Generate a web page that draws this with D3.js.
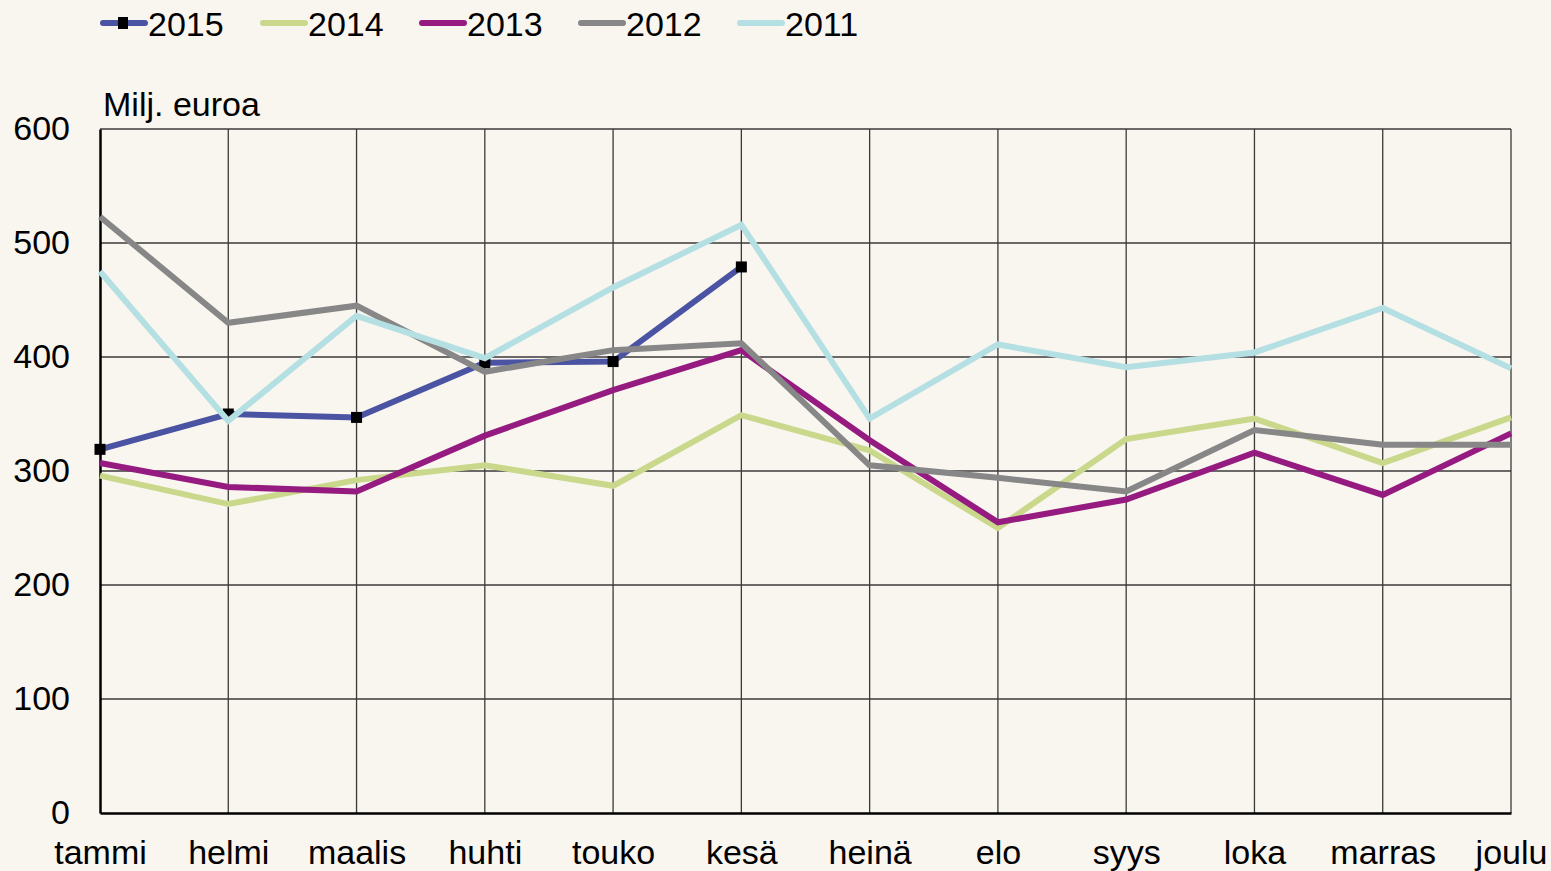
<!DOCTYPE html>
<html>
<head>
<meta charset="utf-8">
<script src="https://cdn.jsdelivr.net/npm/d3@7"></script>
<style>
  html, body { margin: 0; padding: 0; background: #f9f5ef; }
  svg { display: block; font-family: "Liberation Sans", Arial, sans-serif; }
</style>
</head>
<body>
<div id="chart"></div>
<script>
// Month labels (x axis)
var months = ["tammi", "helmi", "maalis", "huhti", "touko", "kesä", "heinä", "elo", "syys", "loka", "marras", "joulu"];
var yTicks = [0, 100, 200, 300, 400, 500, 600];

// Series values, Milj. euroa
var v2015 = [319, 350, 347, 395, 396, 479];
var v2014 = [296, 271, 292, 305, 287, 349, 318, 250, 328, 346, 307, 347];
var v2013 = [307, 286, 282, 331, 371, 406, 327, 255, 275, 316, 279, 333];
var v2012 = [523, 430, 445, 387, 406, 412, 305, 294, 282, 336, 323, 323];
var v2011 = [475, 344, 436, 399, 461, 516, 346, 411, 391, 404, 443, 390];

var seriesNames = ["2015", "2014", "2013", "2012", "2011"];
var seriesValues = [v2015, v2014, v2013, v2012, v2011];
var seriesColors = ["#4b53a3", "#c9d88a", "#951b81", "#878787", "#b5e0e3"];

var svgWidth = 1551;
var svgHeight = 871;
var margin = { top: 129, right: 40, bottom: 58, left: 100 };
var chartWidth = 1511 - margin.left;
var chartHeight = 813 - margin.top;
var fontSize = 34;

var svg = d3.select("#chart")
  .append("svg")
  .attr("width", svgWidth)
  .attr("height", svgHeight);

svg.append("rect")
  .attr("width", svgWidth)
  .attr("height", svgHeight)
  .attr("fill", "#f9f5ef");

var chartGroup = svg.append("g")
  .attr("transform", `translate(${margin.left}, ${margin.top})`);

var xScale = d3.scalePoint()
  .domain(months)
  .range([0, chartWidth]);

var yScale = d3.scaleLinear()
  .domain([0, 600])
  .range([chartHeight, 0]);

// horizontal gridlines
chartGroup.append("g")
  .selectAll("line")
  .data(yTicks.slice(1))
  .enter()
  .append("line")
  .attr("x1", 0)
  .attr("x2", chartWidth)
  .attr("y1", d => yScale(d))
  .attr("y2", d => yScale(d))
  .attr("stroke", "#3a3a3a")
  .attr("stroke-width", 1.3);

// vertical gridlines
chartGroup.append("g")
  .selectAll("line")
  .data(months.slice(1))
  .enter()
  .append("line")
  .attr("x1", d => xScale(d))
  .attr("x2", d => xScale(d))
  .attr("y1", 0)
  .attr("y2", chartHeight)
  .attr("stroke", "#3a3a3a")
  .attr("stroke-width", 1.3);

// y axis
var leftAxis = d3.axisLeft(yScale).tickValues(yTicks).tickSize(0).tickPadding(30);
var yAxisG = chartGroup.append("g").call(leftAxis);
yAxisG.select(".domain").attr("stroke", "#000").attr("stroke-width", 2.5);
yAxisG.selectAll("text")
  .attr("font-size", fontSize)
  .attr("font-family", "Liberation Sans, Arial, sans-serif")
  .attr("fill", "#000");

// x axis
var bottomAxis = d3.axisBottom(xScale).tickSize(0).tickPadding(27);
var xAxisG = chartGroup.append("g")
  .attr("transform", `translate(0, ${chartHeight})`)
  .call(bottomAxis);
xAxisG.select(".domain").attr("stroke", "#000").attr("stroke-width", 2.5);
xAxisG.selectAll("text")
  .attr("font-size", fontSize)
  .attr("font-family", "Liberation Sans, Arial, sans-serif")
  .attr("fill", "#000");

// unit label
svg.append("text")
  .attr("x", 103)
  .attr("y", 116)
  .attr("font-size", fontSize)
  .attr("fill", "#000")
  .text("Milj. euroa");

// lines
var line = d3.line()
  .x((d, i) => xScale(months[i]))
  .y(d => yScale(d));

seriesValues.forEach(function(vals, k) {
  chartGroup.append("path")
    .datum(vals)
    .attr("d", line)
    .attr("fill", "none")
    .attr("stroke", seriesColors[k])
    .attr("stroke-width", 6)
    .attr("stroke-linejoin", "miter");
  if (k === 0) {
    chartGroup.selectAll(".marker")
      .data(vals)
      .enter()
      .append("rect")
      .attr("class", "marker")
      .attr("x", (d, i) => xScale(months[i]) - 5.5)
      .attr("y", d => yScale(d) - 5.5)
      .attr("width", 11)
      .attr("height", 11)
      .attr("fill", "#000");
  }
});

// legend
var legendX = [100, 260, 419, 578, 737];
var legend = svg.append("g");
seriesNames.forEach(function(name, k) {
  var g = legend.append("g").attr("transform", `translate(${legendX[k]}, 0)`);
  g.append("line")
    .attr("x1", 3).attr("x2", 45)
    .attr("y1", 23).attr("y2", 23)
    .attr("stroke", seriesColors[k])
    .attr("stroke-width", 6)
    .attr("stroke-linecap", "round");
  if (k === 0) {
    g.append("rect")
      .attr("x", 18).attr("y", 17)
      .attr("width", 10).attr("height", 12)
      .attr("fill", "#000");
  }
  g.append("text")
    .attr("x", 48)
    .attr("y", 36)
    .attr("font-size", fontSize)
    .attr("fill", "#000")
    .text(name);
});
</script>
</body>
</html>
